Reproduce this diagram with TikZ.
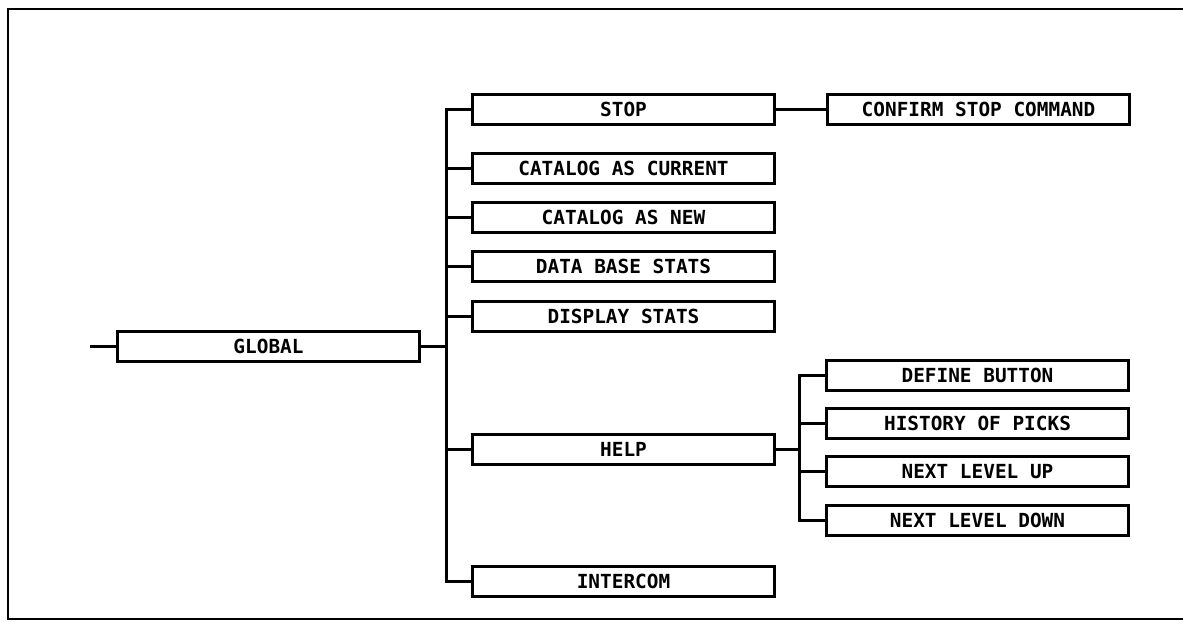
\documentclass[tikz,border=0pt]{standalone}
\usepackage{fontspec}
\setmonofont{DejaVu Sans Mono}
\usepackage{tikz}
\usetikzlibrary{positioning}

\begin{document}
\begin{tikzpicture}[x=0.5pt,y=-0.5pt,
  font=\ttfamily\bfseries\fontsize{9.7}{11}\selectfont, line width=1.2pt, line cap=rect,
  menu/.style={draw,minimum width=151pt,minimum height=15pt,inner sep=0pt,outer sep=0pt,align=center}]
  \useasboundingbox (0,0) rectangle (1183,621);
  \draw (1190,9) -- (8,9) -- (8,619) -- (1190,619);
  \node[menu] (global) at (268.5,346.5) {GLOBAL};
  \node[menu,right=26.5pt of global,yshift=118.5pt] (stop) {STOP};
  \node[menu,below=14.5pt of stop] (catcur) {CATALOG AS CURRENT};
  \node[menu,below=9.5pt of catcur] (catnew) {CATALOG AS NEW};
  \node[menu,below=9.5pt of catnew] (dbstats) {DATA BASE STATS};
  \node[menu,below=10pt of dbstats] (dispstats) {DISPLAY STATS};
  \node[menu,below=51.5pt of dispstats] (help) {HELP};
  \node[menu,below=51pt of help] (intercom) {INTERCOM};
  \node[menu,right=26.5pt of stop] (confirm) {CONFIRM STOP COMMAND};
  \node[menu,right=26pt of help,yshift=37pt] (defbtn) {DEFINE BUTTON};
  \node[menu,below=9pt of defbtn] (history) {HISTORY OF PICKS};
  \node[menu,below=9pt of history] (nextup) {NEXT LEVEL UP};
  \node[menu,below=9.5pt of nextup] (nextdown) {NEXT LEVEL DOWN};
  \coordinate[left=13pt of global] (entry);
  \coordinate[right=13.5pt of global] (bus);
  \coordinate[right=12.5pt of help] (hbus);
  \draw (entry) -- (global);
  \draw (global) -- (bus);
  \draw (bus |- stop) -- (bus |- intercom);
  \foreach \n in {stop,catcur,catnew,dbstats,dispstats,help,intercom}
    \draw (bus |- \n) -- (\n);
  \draw (stop) -- (confirm);
  \draw (help) -- (hbus);
  \draw (hbus |- defbtn) -- (hbus |- nextdown);
  \foreach \n in {defbtn,history,nextup,nextdown}
    \draw (hbus |- \n) -- (\n);
\end{tikzpicture}
\end{document}
